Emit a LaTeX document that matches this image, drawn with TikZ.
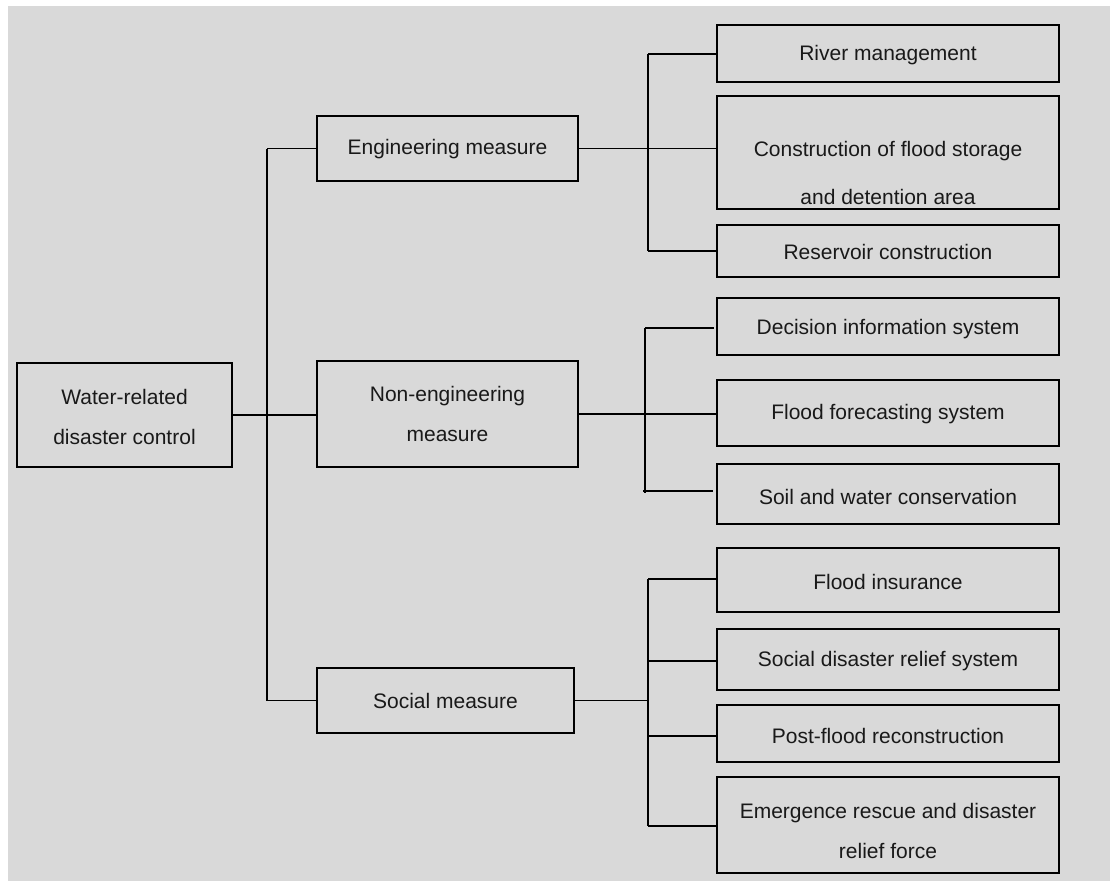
\documentclass[tikz,border=0pt]{standalone}
\usepackage{fontspec}
\setmainfont{Liberation Sans}
\usetikzlibrary{fit}
\definecolor{panel}{RGB}{217,217,217}
\begin{document}
\begin{tikzpicture}[x=0.75pt,y=-0.75pt,
  box/.style={draw=black, line width=1.3pt, inner sep=0pt},
  lbl/.style={font=\fontsize{15.75pt}{30pt}\selectfont, align=center, inner sep=0pt, text=black!90},
  widelbl/.style={lbl, font=\fontsize{15.75pt}{36pt}\selectfont},
  link/.style={draw=black, line width=1.3pt}]
\useasboundingbox (0,0) rectangle (1110,881);
\fill[white] (0,0) rectangle (1110,881);
\fill[panel] (8,6) rectangle (1110,881);

% root and the three kinds of measure
\node[box, fit={(17,363) (232,467)}] (root) {};
\node[box, fit={(317,116) (578,181)}] (eng) {};
\node[box, fit={(317,361) (578,467)}] (neng) {};
\node[box, fit={(317,668) (574,733)}] (soc) {};

% engineering measures
\node[box, fit={(717,25) (1059,82)}] (river) {};
\node[box, fit={(717,96) (1059,209)}] (cons) {};
\node[box, fit={(717,225) (1059,277)}] (res) {};

% non-engineering measures
\node[box, fit={(717,298) (1059,355)}] (dec) {};
\node[box, fit={(717,380) (1059,446)}] (ffs) {};
\node[box, fit={(717,464) (1059,524)}] (soil) {};

% social measures
\node[box, fit={(717,548) (1059,612)}] (ins) {};
\node[box, fit={(717,629) (1059,690)}] (rel) {};
\node[box, fit={(717,705) (1059,762)}] (post) {};
\node[box, fit={(717,777) (1059,873)}] (emg) {};

% labels
\node[lbl] (troot) at (124.5,417) {Water-related\\disaster control};
\node[lbl] (teng) at (447.5,149) {Engineering measure};
\node[lbl] (tneng) at (447.5,414) {Non-engineering\\measure};
\node[lbl] (tsoc) at (445.5,701) {Social measure};
\node[lbl] (triver) at (888,55) {River management};
\node[widelbl] (tcons) at (888,173) {Construction of flood storage\\and detention area};
\node[lbl] (tres) at (888,252) {Reservoir construction};
\node[lbl] (tdec) at (888,329) {Decision information system};
\node[lbl] (tffs) at (888,414) {Flood forecasting system};
\node[lbl] (tsoil) at (888,497) {Soil and water conservation};
\node[lbl] (tins) at (888,582) {Flood insurance};
\node[lbl] (trel) at (888,661) {Social disaster relief system};
\node[lbl] (tpost) at (888,736) {Post-flood reconstruction};
\node[lbl] (temg) at (888,831) {Emergence rescue and disaster\\relief force};

% main trunk
\coordinate (xm) at (267,0);
\draw[link] (eng.west -| xm) -- (soc.west -| xm);
\draw[link] (eng.west -| xm) -- (eng.west);
\draw[link] (soc.west -| xm) -- (soc.west);
\draw[link] (root.east) -- (root.east -| neng.west);

% engineering branch
\coordinate (xe) at (648,0);
\coordinate (e1) at (648,54);
\coordinate (e3) at (648,251);
\draw[link] (e1) -- (e3);
\draw[link] (e1) -- (e1 -| river.west);
\draw[link] (e3) -- (e3 -| res.west);
\draw[link] (eng.east) -- (eng.east -| cons.west);

% non-engineering branch
\coordinate (n1) at (645,328);
\coordinate (n3) at (645,493);
\coordinate (n3l) at (643,491);
\draw[link] (n1) -- (n3);
\draw[link, shorten >=1.5pt] (n1) -- (n1 -| dec.west);
\draw[link, shorten >=2pt] (n3l) -- (n3l -| soil.west);
\draw[link] (neng.east) -- (neng.east -| ffs.west);

% social branch
\coordinate (s1) at (648,579);
\coordinate (s2) at (648,661);
\coordinate (s3) at (648,736);
\coordinate (s4) at (648,826);
\draw[link] (s1) -- (s4);
\draw[link] (s1) -- (s1 -| ins.west);
\draw[link] (s2) -- (s2 -| rel.west);
\draw[link] (s3) -- (s3 -| post.west);
\draw[link] (s4) -- (s4 -| emg.west);
\draw[link] (soc.east) -- (soc.east -| xe);
\end{tikzpicture}
\end{document}
